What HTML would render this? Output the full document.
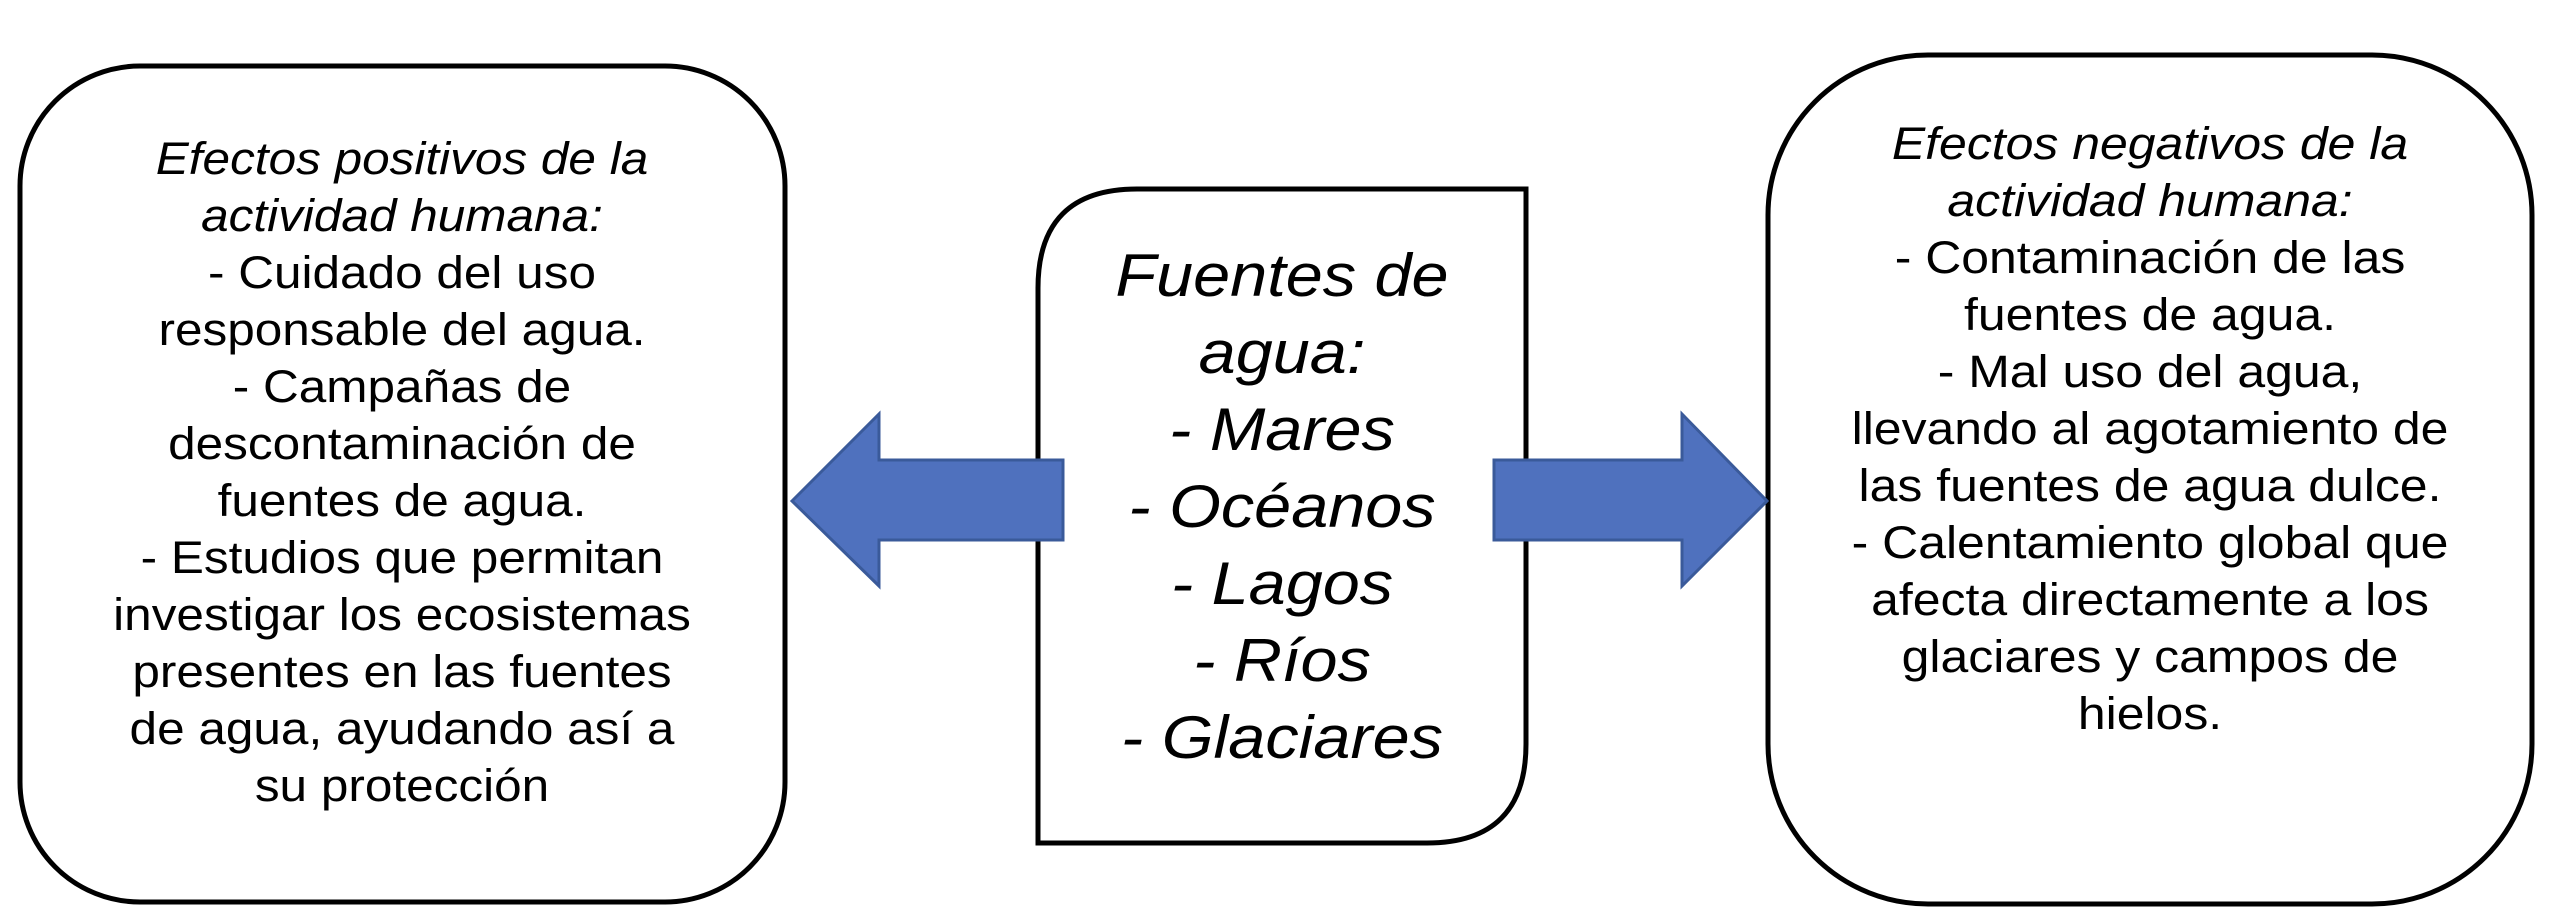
<!DOCTYPE html>
<html><head><meta charset="utf-8"><style>
html,body{margin:0;padding:0;background:#fff;}
svg{display:block;}
text{font-family:"Liberation Sans",Arial,sans-serif;fill:#000;}
</style></head><body>
<svg width="2552" height="924" viewBox="0 0 2552 924" xmlns="http://www.w3.org/2000/svg">
<rect x="20" y="66" width="765" height="836" rx="120" ry="120" fill="#fff" stroke="#000" stroke-width="5"/>
<path d="M1137,189 L1526,189 L1526,744 Q1526,843 1427,843 L1038,843 L1038,288 Q1038,189 1137,189 Z" fill="#fff" stroke="#000" stroke-width="5"/>
<rect x="1768" y="55" width="764" height="849" rx="160" ry="160" fill="#fff" stroke="#000" stroke-width="5"/>
<polygon points="792,501 879,414 879,460 1063,460 1063,540 879,540 879,586" fill="#4f71be" stroke="#3a5a9a" stroke-width="3"/>
<polygon points="1494,460 1682,460 1682,414 1767,501 1682,586 1682,540 1494,540" fill="#4f71be" stroke="#3a5a9a" stroke-width="3"/>
<g font-size="45" text-anchor="middle" transform="translate(402,0) scale(1.1,1)">
<text x="0" y="174" font-style="italic">Efectos positivos de la</text>
<text x="0" y="231" font-style="italic">actividad humana:</text>
<text x="0" y="288">- Cuidado del uso</text>
<text x="0" y="345">responsable del agua.</text>
<text x="0" y="402">- Campañas de</text>
<text x="0" y="459">descontaminación de</text>
<text x="0" y="516">fuentes de agua.</text>
<text x="0" y="573">- Estudios que permitan</text>
<text x="0" y="630">investigar los ecosistemas</text>
<text x="0" y="687">presentes en las fuentes</text>
<text x="0" y="744">de agua, ayudando así a</text>
<text x="0" y="801">su protección</text>
</g>
<g font-size="60" text-anchor="middle" font-style="italic" transform="translate(1282,0) scale(1.11,1)">
<text x="0" y="296">Fuentes de</text>
<text x="0" y="373">agua:</text>
<text x="0" y="450">- Mares</text>
<text x="0" y="527">- Océanos</text>
<text x="0" y="604">- Lagos</text>
<text x="0" y="681">- Ríos</text>
<text x="0" y="758">- Glaciares</text>
</g>
<g font-size="45" text-anchor="middle" transform="translate(2150,0) scale(1.11,1)">
<text x="0" y="159" font-style="italic">Efectos negativos de la</text>
<text x="0" y="216" font-style="italic">actividad humana:</text>
<text x="0" y="273">- Contaminación de las</text>
<text x="0" y="330">fuentes de agua.</text>
<text x="0" y="387">- Mal uso del agua,</text>
<text x="0" y="444">llevando al agotamiento de</text>
<text x="0" y="501">las fuentes de agua dulce.</text>
<text x="0" y="558">- Calentamiento global que</text>
<text x="0" y="615">afecta directamente a los</text>
<text x="0" y="672">glaciares y campos de</text>
<text x="0" y="729">hielos.</text>
</g>
</svg>
</body></html>
